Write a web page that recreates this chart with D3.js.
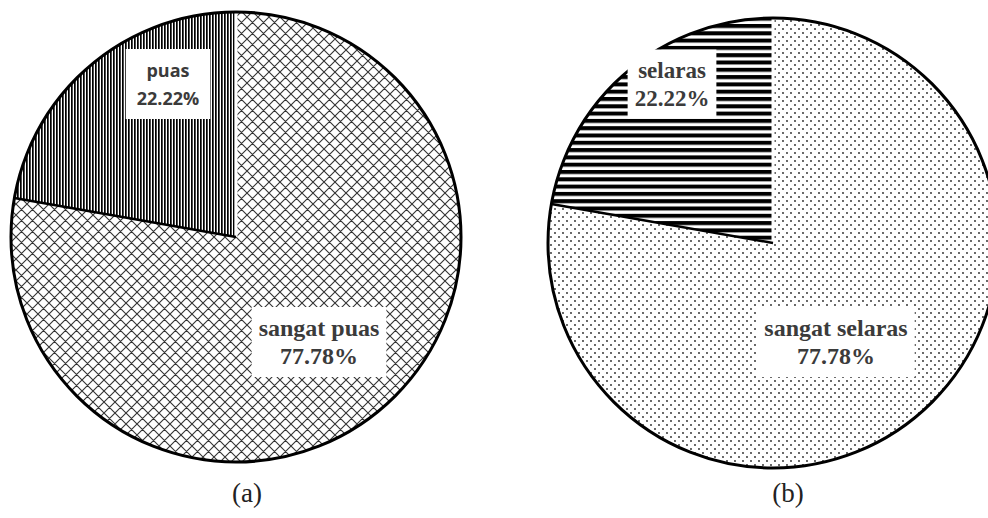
<!DOCTYPE html>
<html><head><meta charset="utf-8">
<script src="https://cdn.jsdelivr.net/npm/d3@7"></script>
<style>body{margin:0;background:#fff}svg{display:block}</style>
</head><body>
<script>
const labelsA = ["puas", "sangat puas"];
const valuesA = [22.22, 77.78];
const labelsB = ["selaras", "sangat selaras"];
const valuesB = [22.22, 77.78];
const captions = ["(a)", "(b)"];

const W = 988, H = 518;
const svg = d3.select("body").append("svg").attr("width", W).attr("height", H);
const defs = svg.append("defs");

// patterns
const pv = defs.append("pattern").attr("id","vstripe").attr("patternUnits","userSpaceOnUse").attr("width",3).attr("height",3);
pv.append("rect").attr("width",3).attr("height",3).attr("fill","#fff");
pv.append("rect").attr("x",0).attr("width",1.7).attr("height",3).attr("fill","#000");

const px = defs.append("pattern").attr("id","cross").attr("patternUnits","userSpaceOnUse").attr("width",11).attr("height",11);
px.append("rect").attr("width",11).attr("height",11).attr("fill","#fff");
px.append("path").attr("d","M0,0L11,11M11,0L0,11M-1,10L1,12M10,-1L12,1M-1,1L1,-1M10,12L12,10").attr("stroke","#333").attr("stroke-width",1.1);

const ph = defs.append("pattern").attr("id","hstripe").attr("patternUnits","userSpaceOnUse").attr("width",7).attr("height",7.3);
ph.append("rect").attr("width",7).attr("height",7.3).attr("fill","#fff");
ph.append("rect").attr("y",0).attr("width",7).attr("height",4).attr("fill","#000");

const pd = defs.append("pattern").attr("id","dots").attr("patternUnits","userSpaceOnUse").attr("width",8).attr("height",8);
pd.append("rect").attr("width",8).attr("height",8).attr("fill","#fff");
pd.append("circle").attr("cx",2).attr("cy",2).attr("r",0.9).attr("fill","#222");
pd.append("circle").attr("cx",6).attr("cy",6).attr("r",0.9).attr("fill","#222");

const serif = "'Liberation Serif', serif";
const charts = [
  {labels: labelsA, values: valuesA, cx: 236, cy: 237, r: 225, fills: ["url(#vstripe)","url(#cross)"],
   small: {x: 168, y: [70, 98], font: "'Open Sans', sans-serif", weight: 700, size: 18, pad: [11, 9]},
   big: {x: 319, y: [328, 356], font: serif, weight: 700, size: 24, pad: [7, 8]},
   cap: {x: 247, y: 502}},
  {labels: labelsB, values: valuesB, cx: 773, cy: 243, r: 225, fills: ["url(#hstripe)","url(#dots)"],
   small: {x: 672, y: [70, 98], font: serif, weight: 700, size: 23, pad: [7, 8]},
   big: {x: 836, y: [328, 356], font: serif, weight: 700, size: 24, pad: [7, 8]},
   cap: {x: 788, y: 502}}
];

charts.forEach((c, ci) => {
  const total = d3.sum(c.values);
  const start = -2 * Math.PI * c.values[0] / total;
  const pie = d3.pie().sort(null).startAngle(start).endAngle(start + 2 * Math.PI);
  const arcs = pie(c.values);
  const arc = d3.arc().innerRadius(0).outerRadius(c.r);
  const g = svg.append("g").attr("transform", `translate(${c.cx},${c.cy})`);
  g.selectAll("path.slice").data(arcs).enter().append("path")
    .attr("class","slice").attr("d", arc).attr("fill", (d, i) => c.fills[i]);
  const pt = a => [c.r * Math.sin(a), -c.r * Math.cos(a)];
  const p0 = pt(arcs[0].startAngle), p1 = pt(arcs[0].endAngle);
  g.append("line").attr("x1",0).attr("y1",0).attr("x2",p1[0]).attr("y2",p1[1]).attr("stroke","#fff").attr("stroke-width",3);
  g.append("line").attr("x1",0).attr("y1",0).attr("x2",p0[0]).attr("y2",p0[1]).attr("stroke","#000").attr("stroke-width",2.5);
  g.append("circle").attr("r", c.r).attr("fill","none").attr("stroke","#000").attr("stroke-width",3);

  [["small", 0], ["big", 1]].forEach(([key, i]) => {
    const L = c[key];
    const lines = [c.labels[i], d3.format(".2f")(c.values[i]) + "%"];
    const lg = svg.append("g");
    const bg = lg.append("rect").attr("fill","#fff");
    lg.selectAll("text").data(lines).enter().append("text")
      .attr("x", L.x).attr("y", (d, j) => L.y[j]).attr("text-anchor","middle").attr("dominant-baseline","central")
      .style("font-family", L.font).style("font-weight", L.weight).style("font-size", L.size + "px")
      .attr("fill", "#3b3b3b").text(d => d);
    const bb = lg.node().getBBox();
    bg.attr("x", bb.x - L.pad[0]).attr("y", bb.y - L.pad[1]).attr("width", bb.width + 2 * L.pad[0]).attr("height", bb.height + 2 * L.pad[1]);
  });

  svg.append("text").attr("x", c.cap.x).attr("y", c.cap.y).attr("text-anchor","middle")
    .style("font-family", serif).style("font-size","27px").attr("fill","#222")
    .text(captions[ci]);
});
</script>
</body></html>
